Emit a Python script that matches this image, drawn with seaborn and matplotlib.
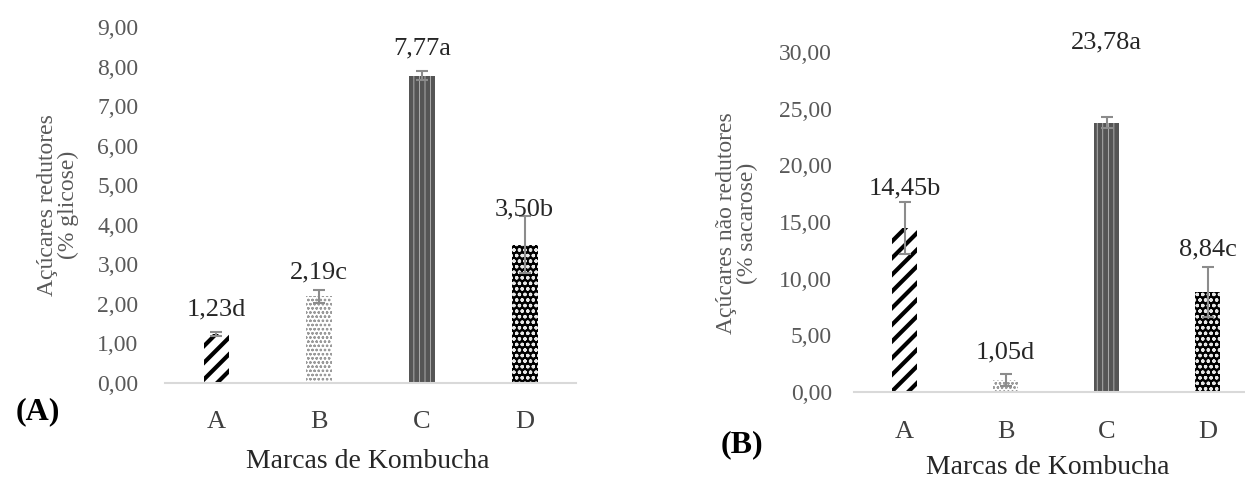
import matplotlib
matplotlib.use('Agg')

import matplotlib.pyplot as plt
import seaborn as sns
import pandas as pd

# dados
marcas = ['A', 'B', 'C', 'D']
redutores = [1.23, 2.19, 7.77, 3.50]
redutores_err = [0.05, 0.17, 0.12, 0.72]
redutores_letra = ['d', 'c', 'a', 'b']
nao_redutores = [14.45, 1.05, 23.78, 8.84]
nao_redutores_err = [2.3, 0.5, 0.45, 2.2]
nao_redutores_letra = ['b', 'd', 'a', 'c']

# estilo de cada barra (hatch, fundo, cor do hatch, espessura)
estilos = [
    ('//', 'white', 'black', 3.0),
    ('oooo', 'white', '#9a9a9a', 0.6),
    ('|||', '#555555', '#d0d0d0', 0.5),
    ('ooo', 'black', '#e8e8e8', 0.9),
]

sns.set_style('white')
plt.rcParams['font.family'] = ['Liberation Serif', 'DejaVu Serif']


def barras(ax, valores, erros, letras, ymax, step, lbl_off, tickpad, ypad):
    df = pd.DataFrame({'marca': marcas, 'valor': valores})
    sns.barplot(data=df, x='marca', y='valor', ax=ax, width=0.25,
                color='white', saturation=1, errorbar=None)
    for p, (h, fc, hc, lw) in zip(ax.patches, estilos):
        p.set_facecolor(fc)
        p.set_edgecolor(hc)
        p.set_linewidth(0)
        p.set_hatch(h)
        if hasattr(p, 'set_hatch_linewidth'):
            p.set_hatch_linewidth(lw)
    ax.errorbar(range(len(marcas)), valores, yerr=erros, fmt='none',
                ecolor='#8c8c8c', elinewidth=1.5, capsize=4, capthick=1.5)
    for i, (v, l) in enumerate(zip(valores, letras)):
        ax.annotate(f'{v:.2f}'.replace('.', ',') + l, (i, v),
                    xytext=(0, lbl_off[i]), textcoords='offset pixels',
                    ha='center', va='center', fontsize=19, color='#262626')
    ax.set_xlim(-0.5, 3.5)
    ax.set_ylim(0, ymax)
    ticks = [k * step for k in range(int(round(ymax / step)) + 1)]
    ax.set_yticks(ticks)
    ax.set_yticklabels([f'{t:.2f}'.replace('.', ',') for t in ticks])
    for s in ['top', 'right', 'left']:
        ax.spines[s].set_visible(False)
    ax.spines['bottom'].set_color('#d9d9d9')
    ax.spines['bottom'].set_linewidth(1.5)
    ax.tick_params(axis='y', length=0, labelsize=17, labelcolor='#595959', pad=ypad)
    ax.tick_params(axis='x', length=0, labelsize=19, labelcolor='#404040', pad=tickpad)
    ax.set_xlabel('')
    ax.set_ylabel('')


fig = plt.figure(figsize=(12.45, 4.79), dpi=100)
ax1 = fig.add_axes([0.1325, 0.2004, 0.3302, 0.7432])
ax2 = fig.add_axes([0.686, 0.1816, 0.3245, 0.7098])

barras(ax1, redutores, redutores_err, redutores_letra, 9, 1,
       [25, 24, 27, 35], 20, 19)
barras(ax2, nao_redutores, nao_redutores_err, nao_redutores_letra, 30, 5,
       [40, 28, 80, 42], 21, 16)

fig.text(58 / 1245, 1 - 205 / 479, 'Açúcares redutores\n(% glicose)',
         rotation=90, ha='center', va='center', fontsize=17,
         color='#595959', linespacing=1.0)
fig.text(737 / 1245, 1 - 223 / 479, 'Açúcares não redutores\n(% sacarose)',
         rotation=90, ha='center', va='center', fontsize=17,
         color='#595959', linespacing=1.0)
fig.text(368 / 1245, 1 - 462 / 479, 'Marcas de Kombucha', ha='center',
         va='center', fontsize=20, color='#262626')
fig.text(1048 / 1245, 1 - 468 / 479, 'Marcas de Kombucha', ha='center',
         va='center', fontsize=20, color='#262626')
fig.text(38 / 1245, 1 - 412 / 479, '(A)', ha='center', va='center',
         fontsize=23, fontweight='bold', color='black')
fig.text(742 / 1245, 1 - 445 / 479, '(B)', ha='center', va='center',
         fontsize=23, fontweight='bold', color='black')

fig.savefig('out.png', dpi=100)
